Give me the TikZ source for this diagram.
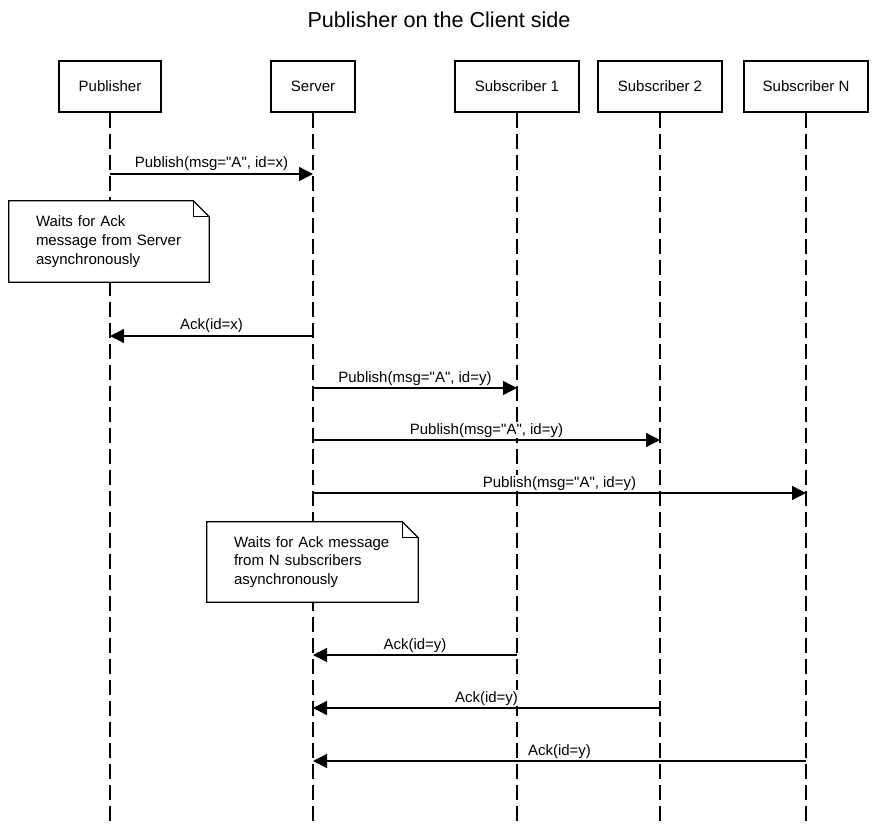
\documentclass[tikz,border=0pt]{standalone}
\usepackage{fontspec}
\setmainfont{Liberation Sans}
\usetikzlibrary{arrows.meta}

\begin{document}
\begin{tikzpicture}[x=1pt, y=-1pt,
    every node/.style={font=\fontsize{15}{18.8}\selectfont},
    actor/.style={draw, line width=2.8pt, minimum height=51pt, inner sep=0pt},
    life/.style={line width=1.3pt, dash pattern=on 15pt off 6pt},
    msg/.style={line width=1.3pt, -{Triangle[length=14pt, width=14pt]}},
    lbl/.style={anchor=base, yshift=6pt, inner sep=1pt, fill=white},
    note/.style={fill=white, inner xsep=27pt, inner ysep=0pt, align=left},
    fold/.style={line width=1.2pt}]
    \useasboundingbox (0, 0) rectangle (878, 826);
    \node[anchor=base, font=\fontsize{21.6}{26}\selectfont] (title) at (439, 28) {Publisher on the Client side};
    \node[actor, minimum width=102pt] (pub) at (110, 86.5) {Publisher};
    \node[actor, minimum width=84pt] (srv) at (313, 86.5) {Server};
    \node[actor, minimum width=124pt] (sub1) at (517, 86.5) {Subscriber 1};
    \node[actor, minimum width=124pt] (sub2) at (660, 86.5) {Subscriber 2};
    \node[actor, minimum width=124pt] (subn) at (806, 86.5) {Subscriber N};
    \coordinate (pubend) at (110, 826);
    \coordinate (srvend) at (313, 826);
    \coordinate (sub1end) at (517, 826);
    \coordinate (sub2end) at (660, 826);
    \coordinate (subnend) at (806, 826);
    \draw[life] (pub.south) -- (pubend);
    \draw[life] (srv.south) -- (srvend);
    \draw[life] (sub1.south) -- (sub1end);
    \draw[life] (sub2.south) -- (sub2end);
    \draw[life] (subn.south) -- (subnend);
    \node[note, text width=146pt, minimum height=81pt] (wait1) at (109, 241.5) {Waits for Ack\\message from Server\\asynchronously};
    \draw[fold] (wait1.north west) -- ([xshift=-16pt]wait1.north east) -- ([yshift=-16pt]wait1.north east) -- (wait1.south east) -- (wait1.south west) -- cycle;
    \draw[fold] ([xshift=-16pt]wait1.north east) -- ([xshift=-16pt, yshift=-16pt]wait1.north east) -- ([yshift=-16pt]wait1.north east);
    \node[note, text width=157pt, minimum height=80pt] (wait2) at (312.5, 562) {Waits for Ack message\\from N subscribers\\asynchronously};
    \draw[fold] (wait2.north west) -- ([xshift=-16pt]wait2.north east) -- ([yshift=-16pt]wait2.north east) -- (wait2.south east) -- (wait2.south west) -- cycle;
    \draw[fold] ([xshift=-16pt]wait2.north east) -- ([xshift=-16pt, yshift=-16pt]wait2.north east) -- ([yshift=-16pt]wait2.north east);
    \coordinate (pub1) at (110, 174);
    \coordinate (srv1) at (313, 174);
    \coordinate (pub2) at (110, 336);
    \coordinate (srv2) at (313, 336);
    \coordinate (srv3) at (313, 388);
    \coordinate (sub13) at (517, 388);
    \coordinate (srv4) at (313, 440);
    \coordinate (sub24) at (660, 440);
    \coordinate (srv5) at (313, 493);
    \coordinate (subn5) at (806, 493);
    \coordinate (srv6) at (313, 655);
    \coordinate (sub16) at (517, 655);
    \coordinate (srv7) at (313, 708);
    \coordinate (sub27) at (660, 708);
    \coordinate (srv8) at (313, 761);
    \coordinate (subn8) at (806, 761);
    \draw[msg] (pub1) -- node[lbl] {Publish(msg=\textquotedbl A\textquotedbl, id=x)} (srv1);
    \draw[msg] (srv2) -- node[lbl] {Ack(id=x)} (pub2);
    \draw[msg] (srv3) -- node[lbl] {Publish(msg=\textquotedbl A\textquotedbl, id=y)} (sub13);
    \draw[msg] (srv4) -- node[lbl] {Publish(msg=\textquotedbl A\textquotedbl, id=y)} (sub24);
    \draw[msg] (srv5) -- node[lbl] {Publish(msg=\textquotedbl A\textquotedbl, id=y)} (subn5);
    \draw[msg] (sub16) -- node[lbl] {Ack(id=y)} (srv6);
    \draw[msg] (sub27) -- node[lbl] {Ack(id=y)} (srv7);
    \draw[msg] (subn8) -- node[lbl] {Ack(id=y)} (srv8);
\end{tikzpicture}
\end{document}
